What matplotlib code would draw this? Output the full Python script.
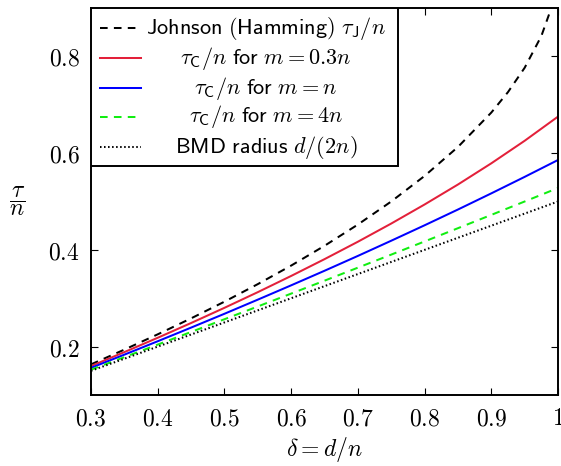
import matplotlib
matplotlib.use('Agg')
import matplotlib.pyplot as plt
from matplotlib.lines import Line2D
from matplotlib.patches import Rectangle

# ─── Data ────────────────────────────────────────────────────────────────────
delta = [0.30, 0.35, 0.40, 0.45, 0.50, 0.55, 0.60, 0.65, 0.70,
         0.75, 0.80, 0.85, 0.90, 0.95, 1.00]

delta_j = [0.30, 0.35, 0.40, 0.45, 0.50, 0.55, 0.60, 0.65, 0.70, 0.75,
           0.80, 0.85, 0.90, 0.925, 0.95, 0.975, 0.99, 1.00]
johnson = [0.1633, 0.1938, 0.2254, 0.2584, 0.2929, 0.3292, 0.3675, 0.4084,
           0.4523, 0.5000, 0.5528, 0.6127, 0.6838, 0.7261, 0.7764, 0.8419,
           0.9000, 1.0000]

tau_m03 = [0.1598, 0.1887, 0.2183, 0.2488, 0.2802, 0.3126, 0.3461, 0.3808,
           0.4168, 0.4544, 0.4938, 0.5351, 0.5789, 0.6255, 0.6755]
tau_m1 = [0.1561, 0.1834, 0.2111, 0.2393, 0.2679, 0.2971, 0.3267, 0.3568,
          0.3875, 0.4189, 0.4508, 0.4834, 0.5168, 0.5509, 0.5858]
tau_m4 = [0.1523, 0.1782, 0.2042, 0.2303, 0.2566, 0.2830, 0.3096, 0.3363,
          0.3632, 0.3902, 0.4174, 0.4448, 0.4723, 0.5000, 0.5279]
bmd = [0.150, 0.175, 0.200, 0.225, 0.250, 0.275, 0.300, 0.325, 0.350,
       0.375, 0.400, 0.425, 0.450, 0.475, 0.500]

xticks = [0.3, 0.4, 0.5, 0.6, 0.7, 0.8, 0.9, 1.0]
xticklabels = ["0.3", "0.4", "0.5", "0.6", "0.7", "0.8", "0.9", "1"]
yticks = [0.2, 0.4, 0.6, 0.8]
yticklabels = ["0.2", "0.4", "0.6", "0.8"]

legend_labels = [
    r"$\mathsf{Johnson\ (Hamming)}\ \tau_{\mathsf{J}}/n$",
    r"$\tau_{\mathsf{C}}/n\ \mathsf{for}\ m = 0.3n$",
    r"$\tau_{\mathsf{C}}/n\ \mathsf{for}\ m = n$",
    r"$\tau_{\mathsf{C}}/n\ \mathsf{for}\ m = 4n$",
    r"$\mathsf{BMD\ radius}\ d/(2n)$",
]

# ─── Style ───────────────────────────────────────────────────────────────────
plt.rcParams.update({
    "mathtext.fontset": "cm",
    "lines.scale_dashes": False,
})

RED = "#e3203a"
BLUE = "#0000ff"
GREEN = "#11ee11"
LW = 1.45

fig = plt.figure(figsize=(5.61, 4.66), dpi=100)
ax = fig.add_axes([91/561, 1 - 395/466, 467/561, 387/466])

styles = [
    dict(color="black", ls=(0, (5.5, 4.5)), lw=LW),
    dict(color=RED, ls="-", lw=LW),
    dict(color=BLUE, ls="-", lw=LW),
    dict(color=GREEN, ls=(0, (5.5, 4.5)), lw=LW),
    dict(color="black", ls=(0, (1.1, 1.8)), lw=LW),
]

ax.plot(delta_j, johnson, **styles[0])
ax.plot(delta, tau_m03, **styles[1])
ax.plot(delta, tau_m1, **styles[2])
ax.plot(delta, tau_m4, **styles[3])
ax.plot(delta, bmd, **styles[4])

ax.set_xlim(0.3, 1.0)
ax.set_ylim(0.1, 0.9)
ax.set_xticks(xticks)
ax.set_xticklabels(["$%s$" % t for t in xticklabels])
ax.set_yticks(yticks)
ax.set_yticklabels(["$%s$" % t for t in yticklabels])
ax.tick_params(direction="in", length=5, width=0.8, top=True, right=True,
               labelsize=17, pad=8)
for sp in ax.spines.values():
    sp.set_linewidth(1.4)

ax.set_xlabel(r"$\delta = d/n$", fontsize=17)
ax.xaxis.set_label_coords(0.5, -0.142)
ax.xaxis.label.set_va("center")
ax.set_ylabel(r"$\dfrac{\tau}{n}$", fontsize=17, rotation=0)
ax.yaxis.set_label_coords(-0.158, 0.501)
ax.yaxis.label.set_va("center")
ax.yaxis.label.set_ha("center")

# ─── Legend (drawn by hand so the labels are centred like pgfplots) ──────────
box_right = (398 - 91) / 467
box_bottom = (395 - 166) / 387
ax.add_patch(Rectangle((0, box_bottom), box_right, 1 - box_bottom,
                       transform=ax.transAxes, facecolor="white",
                       edgecolor="black", lw=1.4, zorder=5))
row_y = [(395 - py) / 387 for py in (28, 58, 88, 117, 147)]
h0, h1 = (100 - 91) / 467, (141 - 91) / 467
text_x = (266 - 91) / 467
for y, st, lab in zip(row_y, styles, legend_labels):
    ax.add_line(Line2D([h0, h1], [y, y], transform=ax.transAxes,
                       zorder=6, **st))
    ax.text(text_x, y, lab, transform=ax.transAxes, ha="center",
            va="center", fontsize=16, zorder=6)

plt.savefig("out.png", dpi=100)
